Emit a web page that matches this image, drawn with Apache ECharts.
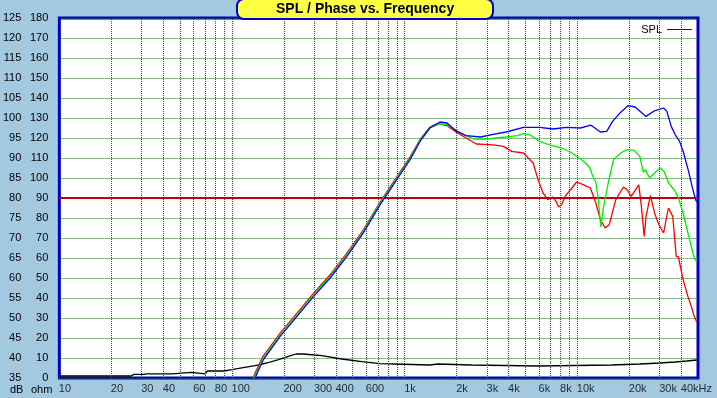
<!DOCTYPE html>
<html>
<head>
<meta charset="utf-8">
<script src="https://cdn.jsdelivr.net/npm/echarts@6/dist/echarts.min.js"></script>
<style>
	html, body { margin: 0; padding: 0; background: #a3c9e1; }
	#chart { width: 717px; height: 398px; }
</style>
</head>
<body>
<div id="chart"></div>
<script>
// frequency (Hz) / level (dB)
var splBlue = [[136,35],[152,39.6],[190,45.4],[238,50.4],[297,55.4],[370,60],[463,65.4],[575,71.2],[720,78.3],[900,84.6],
	[1075,89.6],[1230,94.2],[1400,97.5],[1600,99],[1760,98.75],[2000,96.7],[2270,95.6],[2750,95.25],[3250,95.9],[3875,96.5],
	[4880,97.65],[6050,97.65],[7200,97.25],[8700,97.65],[10400,97.5],[12000,98.2],[13600,96.5],[14800,96.65],[16000,99.15],
	[17800,101.4],[19700,103.1],[21600,102.75],[25000,100.4],[28000,101.8],[31600,102.5],[33000,101.65],[35000,97.9],
	[36900,95.8],[39100,94.15],[41300,91.25],[44100,86.65],[46200,82.9],[48400,79.6],[49200,79]];

var splGreen = [[134,35],[152,40],[190,45.8],[238,50.8],[297,55.8],[370,60.4],[463,65.8],[575,71.6],[720,78.7],[900,85],
	[1075,90],[1230,94.5],[1400,97.6],[1600,98.5],[1760,98.4],[2100,96.25],[2500,94.75],[3000,94.75],[3400,95],[3870,95.25],
	[4500,95.6],[4880,96.1],[5300,95.8],[6050,94.15],[6900,93.3],[8100,92.5],[9100,91.5],[10400,89.8],[11300,88.5],
	[11800,87.5],[12400,85],[12800,84],[13200,80],[13700,72.7],[14100,77.1],[15100,83.75],[16200,89.6],[17800,91.25],
	[19400,92.1],[21300,91.9],[23000,90.4],[24100,86.4],[24800,87.1],[26200,85],[28000,86.25],[30200,87.5],[31800,86.65],
	[33800,83.75],[36900,81.65],[38500,80],[41000,76.25],[43700,71.25],[45700,67.9],[47600,65],[49200,64]];

var splRed = [[132,35],[150,40.2],[190,46.2],[238,51.2],[297,56.2],[370,60.8],[463,66.2],[575,72],[720,79],[900,85.3],
	[1075,90.3],[1230,94.7],[1400,97.7],[1550,98.6],[1760,98.1],[2000,96.4],[2270,95],[2600,93.5],[3250,93.3],[3730,92.9],
	[4170,91.65],[4880,91.25],[5200,90],[5550,88.75],[5920,84.6],[6330,81.25],[6750,79.6],[7200,80.25],[7530,79.15],
	[7800,77.75],[8100,78.3],[8500,80.4],[9300,82.5],[9900,84],[10900,83.3],[11900,82.5],[12800,78.75],[13600,74.6],
	[14500,72.5],[15300,73.3],[16700,79.6],[18500,82.75],[19400,82.1],[20500,80.4],[22700,83.3],[23500,77.9],[24400,70.4],
	[25000,75.4],[26500,80.6],[28000,76.25],[29700,73.3],[31600,71.25],[33700,77.5],[35700,75.4],[37400,65.4],[38500,65.25],
	[41000,59.6],[43700,55.4],[45700,52.9],[47600,50.4],[49200,49]];

// impedance (ohm)
var impedance = [[10,1],[26,1],[27,1.8],[31,1.8],[32,2.1],[45,2.1],[46,2.8],[58,2.8],[59,2.1],[70,2.1],[72,3.5],[90,3.5],
	[100,4.2],[116,5.2],[136,6.2],[159,7.5],[186,9.2],[212,10.8],[235,12],[259,12],[300,11.5],[331,11.2],[432,9.5],
	[565,8.2],[721,7.2],[880,7],[900,6.5],[1400,6.5],[1420,7],[1560,7],[1580,6.5],[2450,6.5],[2500,6],[5900,6],[6000,6.5],
	[15800,6.5],[16000,7],[23000,7],[23500,7.5],[30000,7.5],[30500,8],[36800,8],[37500,8.5],[43000,8.5],[43500,9],[49200,9]];

var gridFreqs = [20,30,40,50,60,70,80,90,100,200,300,400,500,600,700,800,900,1000,
	2000,3000,4000,5000,6000,7000,8000,9000,10000,20000,30000,40000];
var tickFreqs = [10,20,30,40,60,80,100,200,300,400,600,1000,2000,3000,4000,6000,8000,10000,20000,30000,40000];
var tickLabels = ['10','20','30','40','60','80','100','200','300','400','600','1k','2k','3k','4k','6k','8k','10k','20k','30k','40kHz'];
var refLevel = 80;

var font = 'Liberation Sans, Arial, sans-serif';

var option = {
	animation : false,
	backgroundColor : '#a3c9e1',
	textStyle : { fontFamily : font },
	title : {
		text : 'SPL / Phase vs. Frequency',
		left : 237,
		top : -1,
		padding : [2, 39, 2, 39],
		backgroundColor : '#ffff44',
		borderColor : '#0000c8',
		borderWidth : 2,
		borderRadius : 7,
		textStyle : { fontSize : 14, fontWeight : 'bold', color : '#000', fontFamily : font, lineHeight : 16 }
	},
	legend : {
		data : ['SPL'],
		right : 25,
		top : 24,
		padding : 0,
		itemWidth : 25,
		itemHeight : 1,
		align : 'right',
		icon : 'rect',
		textStyle : { fontSize : 11, color : '#000', padding : [12, 0, 0, 0] }
	},
	grid : {
		left : 59,
		right : 19,
		top : 18,
		bottom : 20,
		show : true,
		backgroundColor : '#ffffff',
		borderColor : '#0000c8',
		borderWidth : 3
	},
	xAxis : {
		type : 'log',
		min : 10,
		max : 50000,
		axisLine : { show : false },
		axisTick : { show : false },
		axisLabel : { show : false },
		splitLine : { show : false }
	},
	yAxis : [ {
		type : 'value',
		min : 35,
		max : 125,
		interval : 5,
		position : 'left',
		axisLine : { show : false },
		axisTick : { show : false },
		axisLabel : { margin : 38, color : '#000', fontSize : 11 },
		splitLine : { lineStyle : { color : '#008000', type : 'dotted', width : 1 } }
	}, {
		type : 'value',
		min : 0,
		max : 180,
		interval : 10,
		position : 'left',
		axisLine : { show : false },
		axisTick : { show : false },
		axisLabel : { margin : 11, color : '#000', fontSize : 11 },
		splitLine : { show : false }
	} ],
	graphic : [
		{ type : 'text', left : 10, top : 384, style : { text : 'dB', fill : '#000', font : '11px ' + font } },
		{ type : 'text', left : 31, top : 384, style : { text : 'ohm', fill : '#000', font : '11px ' + font } }
	],
	series : [ {
		// frequency grid and tick labels
		name : 'grid',
		type : 'scatter',
		z : 1,
		silent : true,
		clip : false,
		symbolSize : 1,
		itemStyle : { color : 'rgba(0,0,0,0)' },
		data : tickFreqs.map(function(f, i) {
			return { value : [f, 35], label : { formatter : tickLabels[i] } };
		}),
		label : {
			show : true,
			position : [0, 6],
			align : 'left',
			verticalAlign : 'top',
			color : '#000',
			fontSize : 11
		},
		labelLayout : { hideOverlap : false },
		markLine : {
			silent : true,
			symbol : ['none', 'none'],
			label : { show : false },
			lineStyle : { color : '#008000', type : 'dotted', width : 1 },
			data : gridFreqs.map(function(f) { return { xAxis : f }; })
		}
	}, {
		name : 'ref',
		type : 'line',
		z : 2,
		data : [],
		markLine : {
			silent : true,
			symbol : ['none', 'none'],
			label : { show : false },
			lineStyle : { color : '#c00000', type : 'solid', width : 2 },
			data : [ { yAxis : refLevel } ]
		}
	}, {
		name : 'Impedance',
		type : 'line',
		yAxisIndex : 1,
		z : 3,
		showSymbol : false,
		lineStyle : { color : '#000000', width : 1.3 },
		itemStyle : { color : '#000000' },
		data : impedance
	}, {
		name : 'SPL 3',
		type : 'line',
		z : 4,
		showSymbol : false,
		lineStyle : { color : '#ff0000', width : 1.3 },
		itemStyle : { color : '#ff0000' },
		data : splRed
	}, {
		name : 'SPL 2',
		type : 'line',
		z : 5,
		showSymbol : false,
		lineStyle : { color : '#00ee00', width : 1.3 },
		itemStyle : { color : '#00ee00' },
		data : splGreen
	}, {
		name : 'SPL',
		type : 'line',
		z : 6,
		showSymbol : false,
		lineStyle : { color : '#0000ff', width : 1.3 },
		itemStyle : { color : '#0000ff' },
		data : splBlue
	} ]
};

var myChart = echarts.init(document.getElementById('chart'));
myChart.setOption(option);
</script>
</body>
</html>
